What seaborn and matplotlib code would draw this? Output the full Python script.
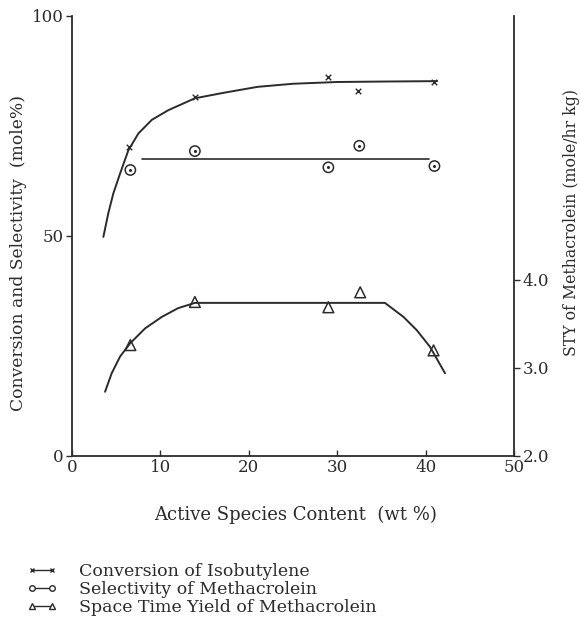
import matplotlib
matplotlib.use("Agg")
import matplotlib.pyplot as plt
from matplotlib.lines import Line2D
import seaborn as sns
import pandas as pd

# Measured points
content_pts = [6.4, 13.9, 29.0, 32.4, 40.9]
conversion_pts = [70.2, 81.6, 86.1, 83.0, 85.0]
sel_content_pts = [6.6, 13.9, 29.0, 32.5, 41.0]
selectivity_pts = [65.0, 69.3, 65.6, 70.5, 65.9]
sty_content_pts = [6.6, 13.9, 29.0, 32.6, 40.9]
sty_pts = [3.26, 3.75, 3.69, 3.86, 3.20]

# Hand-fitted trend curves
conv_curve_x = [3.55, 4.11, 4.68, 5.44, 6.38, 7.51, 9.03, 10.9, 13.9, 17.3,
                21.0, 25.0, 30.0, 35.0, 41.3]
conv_curve_y = [49.8, 55.2, 59.7, 64.2, 69.5, 73.3, 76.4, 78.6, 81.3, 82.6,
                83.9, 84.6, 85.0, 85.1, 85.2]
sel_curve_x = [7.9, 40.4]
sel_curve_y = [67.6, 67.6]
sty_curve_x = [3.74, 4.49, 5.44, 6.57, 8.27, 10.15, 12.0, 13.9, 33.7, 35.4,
               37.5, 39.0, 40.5, 42.2]
sty_curve_y = [2.73, 2.94, 3.13, 3.28, 3.45, 3.58, 3.68, 3.74, 3.74, 3.74,
               3.58, 3.43, 3.24, 2.94]

x_ticks = [0, 10, 20, 30, 40, 50]
left_ticks = [0, 50, 100]
right_ticks = [2.0, 3.0, 4.0]
right_tick_labels = ["2.0", "3.0", "4.0"]

legend_labels = ["Conversion of Isobutylene",
                 "Selectivity of Methacrolein",
                 "Space Time Yield of Methacrolein"]

sns.set_theme(style="ticks")
plt.rcParams["font.family"] = ["DejaVu Serif"]
ink = "#2b2b2b"
plt.rcParams["axes.edgecolor"] = ink
plt.rcParams["xtick.color"] = ink
plt.rcParams["ytick.color"] = ink
plt.rcParams["text.color"] = ink
plt.rcParams["axes.labelcolor"] = ink

fig = plt.figure(figsize=(5.8, 6.3), dpi=100)
ax = fig.add_axes([72 / 580, 1 - 456 / 630, 442 / 580, 440 / 630])
ax2 = ax.twinx()

# Left axis: conversion and selectivity
conv_curve = pd.DataFrame({"x": conv_curve_x, "y": conv_curve_y})
sel_curve = pd.DataFrame({"x": sel_curve_x, "y": sel_curve_y})
sns.lineplot(data=conv_curve, x="x", y="y", ax=ax, color=ink, lw=1.4,
             sort=False, estimator=None)
sns.lineplot(data=sel_curve, x="x", y="y", ax=ax, color=ink, lw=1.2,
             sort=False, estimator=None)
sns.scatterplot(x=content_pts, y=conversion_pts, ax=ax, marker="x", s=16,
                color=ink, linewidth=1.0)
sns.scatterplot(x=sel_content_pts, y=selectivity_pts, ax=ax, marker="o", s=55,
                facecolor="none", edgecolor=ink, linewidth=1.1)
sns.scatterplot(x=sel_content_pts, y=selectivity_pts, ax=ax, marker="o", s=5,
                color=ink, linewidth=0)

# Right axis: space time yield
sty_curve = pd.DataFrame({"x": sty_curve_x, "y": sty_curve_y})
sns.lineplot(data=sty_curve, x="x", y="y", ax=ax2, color=ink, lw=1.4,
             sort=False, estimator=None)
sns.scatterplot(x=sty_content_pts, y=sty_pts, ax=ax2, marker="^", s=60,
                facecolor="none", edgecolor=ink, linewidth=1.1)

ax.set_xlim(0, 50)
ax.set_ylim(0, 100)
ax2.set_ylim(2.0, 7.0)
ax.set_xticks(x_ticks)
ax.set_xticklabels([str(t) for t in x_ticks], fontsize=12)
ax.set_yticks(left_ticks)
ax.set_yticklabels([str(t) for t in left_ticks], fontsize=12)
ax2.set_yticks(right_ticks)
ax2.set_yticklabels(right_tick_labels, fontsize=12)

ax.tick_params(axis="x", direction="in", length=4, width=1, pad=2)
ax.tick_params(axis="y", direction="out", length=4, width=1, pad=2)
ax2.tick_params(axis="y", direction="out", length=4, width=1, pad=2)

for a in (ax, ax2):
    a.spines["top"].set_visible(False)
    a.spines["left"].set_linewidth(1.3)
    a.spines["right"].set_linewidth(1.3)
    a.spines["bottom"].set_linewidth(1.3)
ax.spines["right"].set_visible(False)
ax2.spines["left"].set_visible(False)
ax2.spines["bottom"].set_visible(False)

ax.set_xlabel("Active Species Content  (wt %)", fontsize=13)
ax.xaxis.set_label_coords((296 - 72) / 442, -(515 - 456) / 440)
ax.set_ylabel("Conversion and Selectivity  (mole%)", fontsize=12.3)
ax.yaxis.set_label_coords((19 - 72) / 442, (456 - 253) / 440)
ax2.set_ylabel("STY of Methacrolein (mole/hr kg)", fontsize=11.3)
ax2.yaxis.set_label_coords((571 - 72) / 442, (456 - 223) / 440)
ax.xaxis.label.set_va("center")
ax.yaxis.label.set_va("center")
ax2.yaxis.label.set_va("center")

# Legend below the plot
handles = [
    Line2D([0], [0], color=ink, lw=1.0, marker="x", markersize=3.5),
    Line2D([0], [0], color=ink, lw=1.0, marker="o", markersize=4,
           markerfacecolor="white"),
    Line2D([0], [0], color=ink, lw=1.0, marker="^", markersize=4,
           markerfacecolor="white"),
]
fig.legend(handles, legend_labels, loc="upper left",
           bbox_to_anchor=(22 / 580, 1 - 558 / 630), frameon=False,
           numpoints=2, handlelength=1.7, handletextpad=1.3,
           labelspacing=0.05, fontsize=12.5, borderaxespad=0, borderpad=0.3)

fig.savefig("out.png", dpi=100)
